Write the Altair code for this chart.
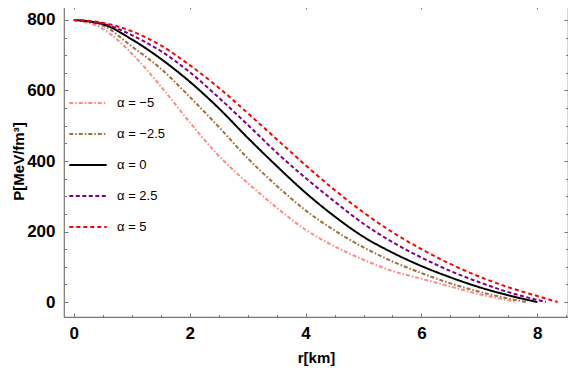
import altair as alt
import pandas as pd

series = ["α = −5", "α = −2.5", "α = 0", "α = 2.5", "α = 5"]
colors = ["#ff8a8a", "#a0703c", "#000000", "#800080", "#ff0000"]
dashes = [[4, 2, 1.5, 2], [4, 2, 1.5, 2], [1, 0], [4, 2.5], [4, 3]]

r_m5 = [0, 0.5, 1, 1.5, 2, 2.5, 3, 3.5, 4, 4.5, 5, 5.5, 6, 6.5, 7, 7.5, 7.65]
p_m5 = [800, 775, 705, 612, 510, 415, 338, 268, 205, 158, 120, 88, 66, 44, 22, 5, 0]

r_m25 = [0, 0.5, 1, 1.5, 2, 2.5, 3, 3.5, 4, 4.5, 5, 5.5, 6, 6.5, 7, 7.5, 7.8]
p_m25 = [800, 784, 725, 662, 582, 497, 408, 330, 260, 203, 155, 115, 82, 53, 29, 10, 0]

r_0 = [0, 0.5, 1, 1.5, 2, 2.5, 3, 3.5, 4, 4.5, 5, 5.5, 6, 6.5, 7, 7.5, 8]
p_0 = [800, 788, 745, 690, 625, 550, 466, 386, 310, 243, 185, 140, 102, 70, 42, 19, 0]

r_p25 = [0, 0.5, 1, 1.5, 2, 2.5, 3, 3.5, 4, 4.5, 5, 5.5, 6, 6.5, 7, 7.5, 8, 8.15]
p_p25 = [800, 790, 757, 712, 652, 580, 503, 424, 352, 285, 222, 170, 126, 88, 56, 28, 6, 0]

r_p5 = [0, 0.5, 1, 1.5, 2, 2.5, 3, 3.5, 4, 4.5, 5, 5.5, 6, 6.5, 7, 7.5, 8, 8.35]
p_p5 = [800, 792, 768, 728, 672, 608, 536, 462, 388, 318, 254, 198, 150, 108, 72, 42, 17, 0]

x_major = [0, 2, 4, 6, 8]
x_minor = [0.5, 1, 1.5, 2.5, 3, 3.5, 4.5, 5, 5.5, 6.5, 7, 7.5, 8.5]
y_major = [0, 200, 400, 600, 800]
y_minor = [-50, 50, 100, 150, 250, 300, 350, 450, 500, 550, 650, 700, 750, 850]

rows = []
for name, rs, ps in zip(series, [r_m5, r_m25, r_0, r_p25, r_p5],
                        [p_m5, p_m25, p_0, p_p25, p_p5]):
    for r, p in zip(rs, ps):
        rows.append({"series": name, "r": r, "P": p})
df = pd.DataFrame(rows)

FONT = "Liberation Sans"
GRAY = "#777777"
xscale = alt.Scale(domain=[-0.17, 8.53], nice=False, zero=False)
yscale = alt.Scale(domain=[-42.5, 842.5], nice=False, zero=False)


def ax(orient, values, size, labels=False, title=None, **kw):
    return alt.Axis(orient=orient, values=values, tickSize=size, offset=-size,
                    domain=False, grid=False, labels=labels, title=title,
                    tickColor=GRAY, tickWidth=1, **kw)


lab = dict(labelFont=FONT, labelFontSize=17, labelFontWeight="bold",
           labelColor="#000000", titleFont=FONT, titleFontSize=15,
           titleFontWeight="bold", titleColor="#000000", labelOverlap=False)

leg = alt.Legend(orient="none", legendX=4, legendY=78, symbolType="stroke",
                 symbolSize=1400, symbolStrokeWidth=2, labelFont=FONT,
                 labelFontSize=13, labelColor="#000000", rowPadding=4,
                 labelOffset=9, padding=0)

lines = alt.Chart(df).mark_line(strokeWidth=2, interpolate="monotone").encode(
    x=alt.X("r:Q", scale=xscale,
            axis=ax("bottom", x_major, 4, labels=True, title="r[km]",
                    labelPadding=8, titlePadding=9, **lab)),
    y=alt.Y("P:Q", scale=yscale,
            axis=ax("left", y_major, 4, labels=True, title="P[MeV/fm³]",
                    labelPadding=9, titlePadding=0, **lab)),
    color=alt.Color("series:N", scale=alt.Scale(domain=series, range=colors),
                    legend=leg, title=None),
    strokeDash=alt.StrokeDash("series:N", scale=alt.Scale(domain=series, range=dashes),
                              legend=leg, title=None),
    detail="series:N",
)


def ghost(xo, xv, xs, yo, yv, ys):
    return alt.Chart(df).mark_line(opacity=0).encode(
        x=alt.X("r:Q", scale=xscale, axis=ax(xo, xv, xs)),
        y=alt.Y("P:Q", scale=yscale, axis=ax(yo, yv, ys)),
        detail="series:N",
    )


chart = alt.layer(
    lines,
    ghost("top", x_major, 4, "right", y_major, 4),
    ghost("bottom", x_minor, 2.5, "left", y_minor, 2.5),
    ghost("top", x_minor, 2.5, "right", y_minor, 2.5),
).resolve_scale(x="independent", y="independent").properties(
    width=504, height=312,
    autosize=alt.AutoSizeParams(type="none"),
    padding={"left": 56, "top": -3, "right": 0, "bottom": 49},
    background="#ffffff",
).configure_view(stroke=GRAY, strokeWidth=1.2)

chart.save("out.html", embed_options={"renderer": "svg", "actions": False})
